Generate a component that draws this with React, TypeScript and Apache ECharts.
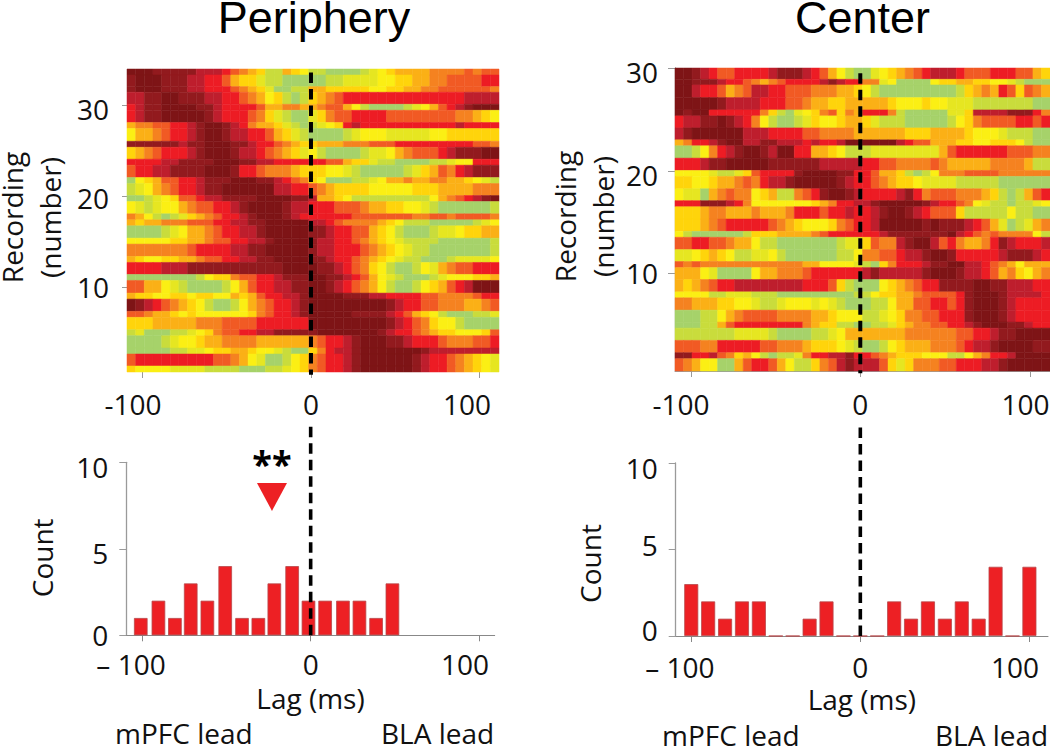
import React, { useEffect, useRef } from "react";
import * as echarts from "echarts";

const palette = ["#A6D26A","#C9DC3C","#E6E621","#FBEF14","#FFD40B","#FBB016","#F58220","#F15A24","#ED1C24","#BE1E2D","#921A1E","#7E1416"];

const peripheryRowEdges = [33.99,33.33,32.05,31.43,30.11,29.45,28.1,27.44,26.04,25.38,24.07,23.41,22.05,21.39,20.07,19.41,18.06,17.4,16.74,15.38,14.73,13.37,12.71,11.39,10.73,9.34,8.68,7.33,6.67,5.31,4.65,3.3,2.64,1.32,0.66];
const centerRowEdges = [30,28.9,28.35,27.12,25.92,25.34,24.17,23.01,22.43,21.23,20.03,19.45,18.25,17.09,16.5,15.31,14.11,13.53,12.33,11.17,10.58,9.42,8.22,7.64,6.44,5.28,4.69,3.5,2.3,1.72,0.52];

const peripheryLevels = [
[11,11,11,10,10,10,10,10,9,9, 9,8,7,6,5,4,1,1,5,4, 3,1,1,0,0,0,0,1,2,3, 4,5,5,5,5,6,6,6,6,7, 6,7,7],
[10,11,11,11,10,10,10,9,9,8, 8,7,5,4,4,2,1,1,0,0, 0,0,0,1,1,2,2,2,2,3, 3,4,4,5,5,6,6,7,7,7, 7,8,8],
[10,11,11,11,10,10,10,9,9,8, 8,8,7,6,5,4,2,0,0,1, 1,5,5,4,4,4,4,4,3,3, 4,4,5,5,6,6,7,7,7,7, 7,7,6],
[9,9,10,10,11,11,10,10,10,9, 9,8,8,7,6,5,3,4,1,0, 1,4,5,6,7,8,8,8,8,8, 8,8,8,8,8,8,8,8,8,9, 9,9,9],
[8,9,10,10,11,11,11,11,10,10, 9,8,8,8,8,7,5,5,6,6, 5,5,6,7,7,5,3,1,0,0, 0,0,1,2,3,5,7,8,9,10, 11,11,11],
[8,9,10,10,11,11,11,11,11,10, 9,8,8,8,7,6,4,2,1,0, 0,2,4,6,7,7,8,8,8,8, 7,7,7,7,7,7,7,7,6,6, 5,4,3],
[5,6,6,7,7,8,8,9,10,11, 11,10,9,8,6,5,5,4,2,1, 0,1,2,3,4,8,9,8,8,8, 8,8,8,8,8,8,8,8,9,8, 8,8,8],
[3,5,5,6,7,8,8,9,10,11, 11,10,9,9,8,8,7,5,4,2, 1,0,0,0,0,1,2,3,3,3, 2,2,2,2,2,3,3,4,4,4, 4,4,4],
[10,10,10,10,10,10,9,10,10,11, 11,11,10,10,9,8,8,7,6,5, 4,4,5,5,5,6,6,6,7,7, 7,8,8,8,8,8,8,8,8,8, 7,7,6],
[4,5,6,7,8,8,8,9,10,11, 11,11,10,9,9,8,7,6,5,4, 2,3,1,0,0,0,0,1,2,2, 3,5,6,7,7,7,8,9,10,10, 10,11,11],
[8,8,8,8,9,9,10,10,10,10, 11,11,11,10,10,9,9,8,8,8, 8,8,8,7,7,5,4,4,2,1, 1,0,0,0,0,1,1,2,3,3, 8,8,8],
[7,8,8,9,9,10,10,10,10,11, 11,11,10,8,8,7,6,6,6,5, 4,4,4,3,3,2,1,0,0,0, 0,0,1,2,4,5,7,6,8,9, 10,10,10],
[0,3,4,5,7,7,8,8,9,10, 10,10,11,11,11,10,10,9,8,7, 6,4,3,0,0,0,1,1,2,3, 5,5,6,5,5,6,6,5,5,4, 3,2,1],
[1,2,3,5,6,7,8,8,9,10, 10,11,11,11,11,11,11,9,9,8, 8,7,6,5,4,4,4,4,3,3, 3,3,3,4,4,4,5,5,5,5, 6,6,6],
[0,0,1,2,3,4,7,7,8,9, 9,10,10,10,10,11,11,11,11,10, 10,9,5,5,4,3,1,1,1,1, 1,1,1,1,1,3,5,6,7,8, 9,10,11],
[3,2,1,2,3,3,5,6,7,7, 8,8,9,10,11,11,11,11,10,9, 9,8,8,8,7,7,7,6,5,5, 4,4,3,3,2,1,0,0,0,0, 0,0,1],
[6,5,3,1,0,1,2,4,5,6, 7,8,8,9,10,11,11,11,10,9, 8,8,8,8,8,8,7,7,7,7, 7,7,7,6,6,7,7,6,7,7, 7,7,6],
[5,4,5,5,6,6,6,7,7,7, 8,8,9,9,10,10,11,11,11,11, 11,9,9,8,7,6,6,6,6,5, 4,3,1,1,1,0,0,0,0,0, 1,2,3],
[0,0,0,0,1,2,3,5,5,6, 7,8,8,9,9,10,11,11,11,11, 11,10,10,9,8,8,7,7,5,4, 3,1,0,0,0,1,2,2,3,4, 4,5,5],
[3,3,3,3,3,4,4,5,5,6, 7,7,8,8,9,9,10,11,11,11, 11,10,9,9,8,8,7,6,5,4, 3,2,1,1,1,1,0,0,0,0, 0,0,1],
[6,6,6,6,6,6,6,7,8,8, 8,8,9,9,10,10,11,11,11,11, 11,10,9,9,8,8,8,7,6,5, 4,3,2,1,1,0,0,0,0,0, 0,0,1],
[5,4,3,3,4,4,5,5,6,7, 7,8,8,9,9,10,10,11,11,11, 11,10,10,9,8,8,7,6,5,4, 3,2,1,1,0,0,0,1,2,2, 2,2,3],
[8,8,8,8,9,9,9,10,10,10, 10,10,10,10,10,10,10,10,11,11, 11,11,10,10,9,8,7,6,4,3, 1,0,0,1,3,2,5,6,7,7, 8,8,8],
[0,0,0,0,0,0,0,0,1,3, 4,4,6,7,7,8,8,9,10,10, 10,11,11,10,10,9,8,7,5,3, 2,1,0,0,0,1,2,3,3,3, 4,4,5],
[7,7,5,5,3,2,1,0,0,0, 0,1,3,5,7,8,8,9,9,10, 10,11,11,10,9,8,7,6,5,3, 1,0,0,1,3,4,5,7,8,9, 11,11,11],
[5,4,4,3,3,4,4,3,4,4, 3,3,5,4,5,7,8,8,9,9, 10,11,11,11,11,10,10,10,9,9, 8,8,8,8,7,7,6,6,6,6, 7,8,8],
[11,10,9,8,7,6,5,4,3,1, 0,0,1,3,5,6,7,8,8,9, 10,11,11,11,11,11,11,11,11,11, 10,9,8,8,7,7,6,6,6,5, 5,6,7],
[7,7,6,5,5,4,3,4,3,3, 3,3,3,3,4,6,7,8,8,9, 10,11,11,11,11,11,10,10,10,10, 9,8,7,5,4,3,1,0,0,0, 1,1,2],
[4,4,4,5,5,5,5,5,6,6, 6,7,7,7,7,8,8,8,8,8, 8,11,11,11,11,11,11,11,11,11, 10,9,8,7,6,4,3,3,1,0, 0,0,0],
[1,2,0,0,0,1,1,2,3,4, 6,7,7,8,8,9,9,10,10,10, 10,10,11,11,11,11,11,11,11,10, 9,8,8,7,6,5,4,4,3,3, 3,4,7],
[0,0,0,0,1,2,3,3,4,5, 5,6,6,6,6,5,5,5,5,5, 5,6,7,8,8,9,10,11,11,11, 10,10,9,8,8,8,7,6,6,6, 7,7,8],
[0,0,0,0,0,1,1,2,2,3, 4,4,5,5,4,3,3,2,1,0, 0,4,6,8,9,9,10,11,11,11, 11,11,11,11,10,9,9,9,9,9, 9,9,9],
[7,8,8,8,8,8,8,8,8,8, 7,7,6,5,3,2,0,0,1,3, 4,6,7,8,8,9,10,11,11,11, 11,11,11,10,9,8,8,7,6,5, 4,3,2],
[4,3,3,3,3,2,2,2,2,1, 1,1,1,0,0,0,1,1,2,3, 4,6,7,8,8,9,10,11,11,11, 11,11,11,10,9,8,8,7,6,5, 4,3,2],
];

const centerLevels = [
[11,11,10,9,8,7,7,8,8,8, 8,9,10,10,10,9,8,7,5,3, 1,0,0,2,3,4,5,6,7,8, 9,9,9,8,7,7,7,8,8,8, 7,7,5,4],
[11,11,10,10,10,9,8,8,7,6, 5,6,7,8,8,8,8,9,10,9, 8,8,6,6,2,3,0,0,0,0, 3,4,4,5,5,4,4,3,3,2, 1,0,0,0],
[11,11,9,8,8,7,5,6,7,9, 9,8,8,7,7,7,6,6,6,5, 5,4,3,1,0,0,0,0,0,0, 0,0,0,1,4,5,6,5,8,7, 4,7,6,5],
[11,11,11,11,11,10,9,9,9,9, 8,8,8,7,7,6,5,5,4,4, 5,5,5,5,5,4,3,3,3,4, 3,3,2,2,2,1,1,1,1,1, 1,1,0,0],
[11,10,11,11,8,8,8,8,8,8, 6,4,1,0,2,3,4,6,7,4, 6,5,8,8,8,6,1,0,0,0, 0,0,2,2,4,9,9,9,9,10, 10,10,8,6],
[8,9,9,10,10,11,10,9,8,6, 3,1,0,0,1,2,4,3,3,4, 5,5,4,2,1,1,1,0,0,0, 0,0,1,3,4,6,7,7,7,7, 8,8,7,8],
[9,10,11,11,11,11,11,11,9,9, 9,8,8,8,8,7,7,6,6,6, 6,5,5,5,5,5,5,4,4,4, 5,5,5,5,4,3,3,3,2,1, 1,1,0,0],
[5,6,8,8,9,10,11,11,9,9, 10,10,9,9,9,8,9,8,8,9, 11,11,11,11,11,11,9,8,7,7, 5,5,5,4,4,3,3,4,4,4, 3,1,0,0],
[0,0,1,3,6,8,9,10,11,11, 10,9,11,11,8,8,5,5,4,3, 1,1,1,2,2,2,2,2,2,2, 2,5,7,8,8,8,8,8,8,7, 7,7,6,6],
[8,8,8,9,10,10,11,11,11,11, 11,10,10,10,10,10,10,9,9,9, 9,9,8,8,7,7,6,6,6,6, 7,6,5,5,5,5,5,6,6,6, 6,5,1,1],
[3,3,3,3,2,1,1,2,4,7, 8,8,8,8,10,11,11,11,11,10, 10,8,8,7,5,5,4,1,0,1, 3,6,6,6,7,7,7,7,6,6, 6,6,6,6],
[4,4,3,3,4,5,5,6,7,6, 8,9,9,10,11,11,11,11,11,10, 9,8,8,7,6,5,4,4,3,2, 2,2,2,1,1,1,1,1,0,0, 0,0,0,0],
[3,2,2,0,5,6,7,6,6,3, 4,5,1,1,6,7,8,10,11,11, 10,9,8,8,8,8,9,10,8,6, 7,7,7,6,6,6,5,4,1,0, 1,5,7,8],
[8,8,8,10,10,10,9,8,6,3, 3,3,3,3,3,3,4,5,6,8, 8,9,9,10,11,11,11,11,11,10, 9,8,8,7,6,3,2,1,1,0, 1,1,2,3],
[4,4,4,5,6,6,5,5,5,6, 5,5,5,6,8,8,8,7,8,8, 9,8,8,9,10,11,11,10,9,8, 7,7,7,4,1,1,1,1,1,3, 1,1,0,0],
[4,4,4,5,6,7,8,8,8,8, 8,7,6,5,4,3,3,3,4,6, 7,8,8,9,11,11,11,11,11,10, 11,10,10,10,9,8,7,5,2,0, 1,2,5,6],
[3,1,0,0,0,0,0,0,1,4, 4,4,5,5,5,5,6,7,8,8, 8,8,8,8,9,10,10,10,10,10, 10,10,11,9,8,7,6,7,6,6, 6,6,3,1],
[7,7,8,8,7,7,6,5,5,3, 1,1,0,0,0,0,0,0,0,1, 2,2,4,7,6,6,9,10,11,11, 9,7,8,6,5,5,6,8,10,9, 8,8,8,9],
[2,2,3,4,5,4,3,1,1,2, 2,3,1,0,0,0,0,0,0,1, 1,3,6,6,7,7,8,9,9,10, 11,11,10,8,8,8,8,8,9,10, 10,10,9,8],
[7,6,7,6,6,6,6,6,6,6, 6,6,6,6,6,5,5,3,3,3, 3,2,1,0,4,6,8,8,8,9, 10,10,11,11,9,9,8,7,6,5, 3,5,5,5],
[5,5,5,3,2,0,0,0,0,3, 5,5,6,6,6,7,8,8,8,8, 8,8,9,10,9,9,9,9,9,10, 11,11,11,10,9,9,8,7,5,6, 4,3,5,6],
[5,4,5,6,7,8,8,9,9,9, 9,9,9,9,9,8,8,8,7,4, 1,0,0,0,3,4,5,6,7,8, 8,10,10,10,10,11,11,10,10,9, 9,9,8,8],
[3,3,3,3,1,1,2,2,2,1, 1,1,0,0,0,0,0,0,0,0, 0,1,1,3,4,4,5,5,6,7, 7,7,7,8,10,11,11,11,10,9, 9,9,9,8],
[6,6,5,5,5,4,4,3,3,2, 1,1,2,3,3,3,2,3,2,1, 0,0,0,1,1,3,5,5,7,7, 8,8,7,8,10,11,11,11,10,9, 8,8,8,8],
[0,0,0,1,1,3,5,6,7,7, 7,7,6,6,6,6,5,5,4,3, 3,3,1,1,2,3,4,6,6,7, 7,8,8,8,10,11,11,11,10,9, 8,8,8,8],
[0,0,0,1,1,5,7,8,8,8, 8,8,8,8,8,6,5,4,4,1, 1,0,0,1,1,2,4,5,6,6, 7,7,8,8,9,10,11,11,11,10, 10,9,8,8],
[1,1,1,1,1,1,1,2,2,2, 2,1,0,0,0,0,1,1,2,3, 5,5,5,5,5,5,5,6,6,6, 6,6,6,7,7,8,8,9,10,10, 11,11,11,11],
[7,7,7,6,6,8,8,8,8,8, 7,7,6,6,6,5,4,4,4,3, 2,1,0,0,1,3,4,5,5,5, 6,6,6,7,8,9,9,10,11,11, 11,11,10,10],
[10,10,8,8,9,7,6,4,5,3, 1,0,1,1,2,6,8,8,9,9, 10,8,8,7,6,5,4,4,4,3, 3,3,1,1,3,5,6,8,8,9, 11,11,11,11],
[7,6,5,3,3,0,0,5,7,8, 8,7,5,3,1,1,4,6,7,9, 10,9,9,9,7,4,2,4,6,6, 6,7,7,8,8,8,9,9,10,11, 11,11,11,11],
];

const peripheryBinLags = [-101,-90.5,-80.7,-71.3,-61.4,-50.8,-40.8,-31.1,-21.6,-11,-1.3,8.6,19.2,29,38.9,48.6];
const peripheryCounts = [1,2,1,3,2,4,1,1,3,4,2,2,2,2,1,3];
const centerBinLags = [-100,-90,-80,-70,-60,-50,-40,-30,-20,-10,0,10,20,30,40,50,60,70,80,90,100];
const centerCounts = [3,2,1,2,2,0,0,1,2,0,0,0,2,1,2,1,2,1,4,0,4];

const topLagLabels = ["-100", "0", "100"];
const bottomLagLabels = ["– 100", "0", "100"];
const recordingLabels = ["10", "20", "30"];
const countLabels = ["0", "5", "10"];

const FONT = "'Open Sans'";
const GRAY = "#9a9a9a";
const TEXT = "#111111";
const SIZE = 28;

const px = (left: number, right: number, top: number, bottom: number) => ({
  left, top, width: right - left, height: bottom - top, containLabel: false, outerBoundsMode: "none",
});

function heatData(levels: number[][], edges: number[], min: number, max: number) {
  const out: number[][] = [];
  levels.forEach((row, r) => {
    const w = (max - min) / row.length;
    row.forEach((v, c) => {
      out.push([min + c * w, min + (c + 1) * w, edges[r + 1], edges[r], v]);
    });
  });
  return out;
}

const renderCell = (_: any, api: any) => {
  const p0 = api.coord([api.value(0), api.value(3)]);
  const p1 = api.coord([api.value(1), api.value(2)]);
  const fill = palette[api.value(4)];
  return {
    type: "rect",
    shape: { x: p0[0], y: p0[1], width: p1[0] - p0[0], height: p1[1] - p0[1] },
    style: { fill, stroke: fill, lineWidth: 0.5 },
  };
};

const lagAxis = (gridIndex: number, min: number, max: number, labelAt: number[], labels: string[], margin: number, withName: boolean, color: string, showLine: boolean) => ({
  type: "value", gridIndex, min, max, splitLine: { show: false },
  axisLine: { show: showLine, onZero: false, lineStyle: { color, width: 1 } },
  axisTick: { show: true, length: 6, customValues: [-100, 0, 100], lineStyle: { color, width: 1 } },
  axisLabel: {
    show: true, customValues: labelAt, margin, fontFamily: FONT, fontSize: SIZE, color: TEXT, lineHeight: 24,
    formatter: (v: number) => labels[labelAt.indexOf(v)] ?? "",
  },
  ...(withName ? {
    name: "Lag (ms)", nameLocation: "middle", nameGap: 50,
    nameTextStyle: { fontFamily: FONT, fontSize: SIZE, color: TEXT, lineHeight: 26 },
  } : {}),
});

const valueAxis = (gridIndex: number, min: number, max: number, ticks: number[], labelAt: number[], labels: string[], name: string, nameGap: number, lineShow: boolean, margin: number, tickLen: number, namePad: number[]) => ({
  type: "value", gridIndex, min, max, splitLine: { show: false },
  axisLine: { show: lineShow, onZero: false, lineStyle: { color: GRAY, width: 1.3 } },
  axisTick: { show: true, length: tickLen, customValues: ticks, lineStyle: { color: GRAY, width: 1 } },
  axisLabel: {
    show: true, customValues: labelAt, margin, fontFamily: FONT, fontSize: SIZE, color: TEXT, lineHeight: 22,
    formatter: (v: number) => labels[labelAt.indexOf(v)] ?? "",
  },
  name, nameLocation: "middle", nameGap, nameRotate: 90,
  nameTextStyle: { fontFamily: FONT, fontSize: SIZE, color: TEXT, lineHeight: 38, padding: namePad },
});

const dashed = (xAxisIndex: number, yAxisIndex: number, y0: number, y1: number, width: number) => ({
  type: "line", xAxisIndex, yAxisIndex, clip: false, symbol: "none", silent: true, z: 10,
  data: [[0, y0], [0, y1]],
  lineStyle: { color: "#000", width, type: [10.5, 6] },
});

const bars = (xAxisIndex: number, yAxisIndex: number, xs: number[], ys: number[], barWidth: number) => ({
  type: "bar", xAxisIndex, yAxisIndex, barWidth,
  data: xs.map((x, i) => [x, ys[i]]),
  itemStyle: { color: "#ED2024", borderColor: "#B8474A", borderWidth: 0.8 },
});

const footer = (x: number, y: number, text: string) => ({
  type: "text", x, y,
  style: { text, fontFamily: FONT, fontSize: SIZE, lineHeight: 22, fill: TEXT, align: "left", verticalAlign: "middle" },
});

const titleText = (text: string, left: number) => ({
  text, left, top: 0, padding: 0, textAlign: "center",
  textStyle: { fontFamily: "'Liberation Sans'", fontSize: 45, lineHeight: 34, fontWeight: "normal", color: "#000" },
});

export default function App() {
  const ref = useRef<HTMLDivElement>(null);
  useEffect(() => {
    document.body.style.margin = "0";
    const chart = echarts.init(ref.current!, undefined, { renderer: "svg" });
    const xA: [number, number] = [-109.2, 111.6];
    const xB: [number, number] = [-109.3, 111.9];
    chart.setOption({
      animation: false,
      backgroundColor: "#fff",
      title: [titleText("Periphery", 314), titleText("Center", 862.5)],
      grid: [px(127, 499, 69, 372), px(675, 1050, 68, 371), px(126.3, 494.7, 462.3, 635.3), px(675.7, 1048, 463, 636)],
      xAxis: [
        lagAxis(0, xA[0], xA[1], [-105.6, 0, 92.6], topLagLabels, 20, false, GRAY, false),
        lagAxis(1, xB[0], xB[1], [-105.8, 0, 97.4], topLagLabels, 21, false, GRAY, true),
        lagAxis(2, -109.6, 109.4, [-106.8, 0, 91.7], bottomLagLabels, 17, true, "#888", true),
        lagAxis(3, -109.2, 111, [-106.7, 0, 91.5], bottomLagLabels, 19, true, "#888", true),
      ],
      yAxis: [
        valueAxis(0, 0.66, 33.99, [10, 20, 30], [10, 19.8, 29.56], recordingLabels, "Recording\n(number)", 58, false, 18, 5, [0, 0, 0, 6]),
        valueAxis(1, 0.52, 30, [10, 20, 30], [10.1, 19.56, 29.6], recordingLabels, "Recording\n(number)", 53, true, 17, 7, [0, 0, 0, 6]),
        valueAxis(2, 0, 10, [0, 5, 10], [0, 4.77, 9.73], countLabels, "Count", 65, true, 18, 7, [0, 18, 0, 0]),
        valueAxis(3, 0, 10, [0, 5, 10], [0.35, 5.26, 9.72], countLabels, "Count", 67, true, 18, 7, [0, 28, 0, 0]),
      ],
      series: [
        { type: "custom", xAxisIndex: 0, yAxisIndex: 0, renderItem: renderCell, encode: { x: [0, 1], y: [2, 3] }, data: heatData(peripheryLevels, peripheryRowEdges, xA[0], xA[1]) },
        { type: "custom", xAxisIndex: 1, yAxisIndex: 1, renderItem: renderCell, encode: { x: [0, 1], y: [2, 3] }, data: heatData(centerLevels, centerRowEdges, xB[0], xB[1]) },
        bars(2, 2, peripheryBinLags, peripheryCounts, 13.6),
        bars(3, 3, centerBinLags, centerCounts, 14),
        dashed(0, 0, 33.6, 0.35, 4),
        dashed(1, 1, 29.5, 0.3, 4),
        dashed(2, 2, 12.05, -0.1, 3.6),
        dashed(3, 3, 12.05, -0.1, 3.6),
        {
          type: "scatter", xAxisIndex: 2, yAxisIndex: 2, symbol: "triangle", symbolRotate: 180, symbolSize: [30, 28],
          data: [[-23, 8]], itemStyle: { color: "#ED2024", opacity: 1 },
          label: { show: true, position: "top", distance: 1, formatter: "**", fontFamily: FONT, fontSize: 36, fontWeight: "bold", color: "#000", opacity: 1 },
        },
      ],
      graphic: [
        footer(115, 733, "mPFC lead"), footer(381, 733, "BLA lead"),
        footer(662, 735, "mPFC lead"), footer(935, 735, "BLA lead"),
      ],
    });
    return () => chart.dispose();
  }, []);
  return <div ref={ref} style={{ width: 1050, height: 747 }} />;
}
